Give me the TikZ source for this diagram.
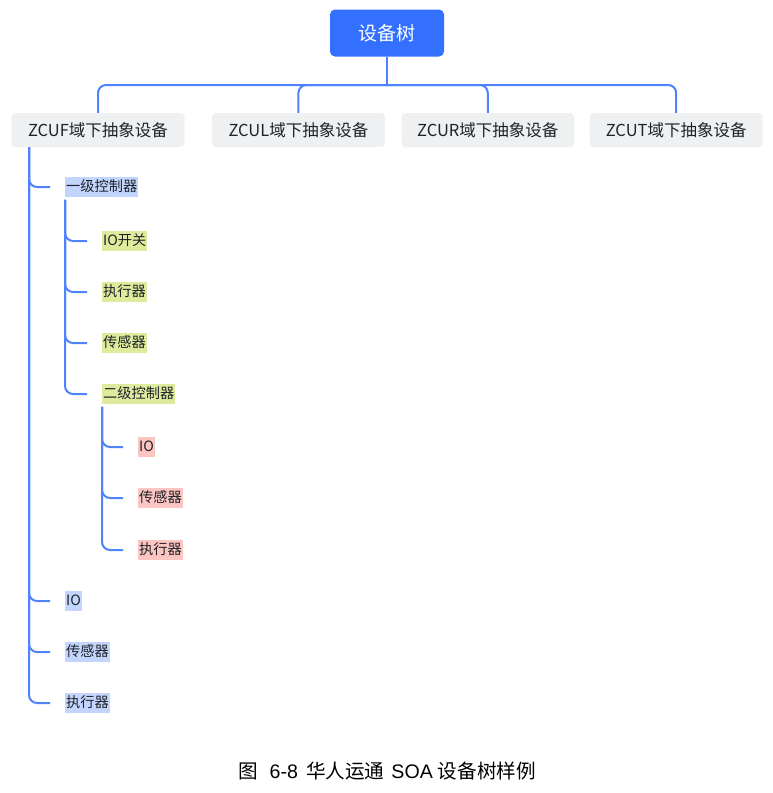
\documentclass[tikz,border=0pt]{standalone}
\usepackage{fontspec}
\setmainfont{Noto Sans CJK SC}
\newfontfamily\capLatin{Liberation Sans}
\usetikzlibrary{positioning}

\definecolor{rootblue}{HTML}{3370FF}
\definecolor{linkblue}{HTML}{4E83FD}
\definecolor{domgray}{HTML}{EFF0F1}
\definecolor{hlblue}{HTML}{C3D5FC}
\definecolor{hlgreen}{HTML}{DEEB9D}
\definecolor{hlred}{HTML}{FCC5C1}
\definecolor{inkgray}{HTML}{1F2329}

\begin{document}
\begin{tikzpicture}[
        x=1pt, y=-1pt,
        base/.style={align=center, text=inkgray, inner sep=0pt},
        rootbox/.style={base, fill=rootblue, text=white, rounded corners=5pt, minimum width=114pt, minimum height=47pt, font=\fontsize{19}{22}\selectfont},
        dombox/.style={base, fill=domgray, rounded corners=4pt, minimum width=173pt, minimum height=34pt, font=\fontsize{16.5}{19}\selectfont},
        leaf/.style={base, anchor=west, inner xsep=1pt, inner ysep=2.5pt, text height=11.5pt, text depth=3pt, font=\fontsize{14.2}{17}\selectfont},
        lvone/.style={leaf, fill=hlblue},
        lvtwo/.style={leaf, fill=hlgreen},
        lvthree/.style={leaf, fill=hlred},
        link/.style={draw=linkblue, line width=2pt, rounded corners=8pt}
    ]
    \useasboundingbox (0,0) rectangle (773,793);

    \node[rootbox] (tree) at (387,33) {设备树};
    \node[dombox] (zcuf) at (98,130) {ZCUF域下抽象设备};
    \node[dombox, right=27pt of zcuf] (zcul) {ZCUL域下抽象设备};
    \node[dombox, right=16pt of zcul] (zcur) {ZCUR域下抽象设备};
    \node[dombox, right=15pt of zcur] (zcut) {ZCUT域下抽象设备};

    \node[lvone] (ctrlA) at (65,187) {一级控制器};
    \node[lvtwo] (ioswitch) at (102,241) {IO开关};
    \node[lvtwo] (actA) at (102,292) {执行器};
    \node[lvtwo] (sensA) at (102,343) {传感器};
    \node[lvtwo] (ctrlB) at (102,394) {二级控制器};
    \node[lvthree] (ioB) at (138,447) {IO};
    \node[lvthree] (sensB) at (138,498) {传感器};
    \node[lvthree] (actB) at (138,550) {执行器};
    \node[lvone] (ioA) at (65,601) {IO};
    \node[lvone] (sensC) at (65,652) {传感器};
    \node[lvone] (actC) at (65,703) {执行器};

    \node[font=\fontsize{19.6}{22}\selectfont, text=black, inner sep=0pt] (caption) at (387,771) {图\hspace{12pt}{\capLatin 6-8}\hspace{8pt}华人运通\hspace{7pt}{\capLatin SOA}\hspace{5pt}设备树样例};

    % root to domains
    \coordinate (bus) at (387,85);
    \draw[link] (tree) -- (bus);
    \draw[link] (bus) -| (zcuf.north); \draw[link] (bus) -| (zcul.north);
    \draw[link] (bus) -| (zcur.north); \draw[link] (bus) -| (zcut.north);

    % ZCUF subtree
    \coordinate (trunkA) at ([xshift=-69pt]zcuf.south);
    \coordinate (trunkB) at ([yshift=-3pt]ctrlA.south west);
    \coordinate (trunkC) at ([yshift=-3pt]ctrlB.south west);
    \draw[link] (trunkA) |- ([xshift=-15pt]ctrlA.west);
    \draw[link] (trunkA) |- ([xshift=-15pt]ioA.west);
    \draw[link] (trunkA) |- ([xshift=-15pt]sensC.west);
    \draw[link] (trunkA) |- ([xshift=-15pt]actC.west);
    \draw[link] (trunkB) |- ([xshift=-15pt]ioswitch.west);
    \draw[link] (trunkB) |- ([xshift=-15pt]actA.west);
    \draw[link] (trunkB) |- ([xshift=-15pt]sensA.west);
    \draw[link] (trunkB) |- ([xshift=-15pt]ctrlB.west);
    \draw[link] (trunkC) |- ([xshift=-15pt]ioB.west);
    \draw[link] (trunkC) |- ([xshift=-15pt]sensB.west);
    \draw[link] (trunkC) |- ([xshift=-15pt]actB.west);
\end{tikzpicture}
\end{document}
